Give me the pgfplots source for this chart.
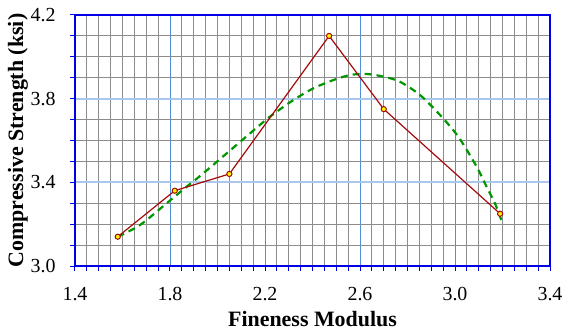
\documentclass[border=0pt]{standalone}
\usepackage{fontspec}
\setmainfont{Liberation Serif}
\usepackage{pgfplots}
\pgfplotsset{compat=1.18}
\definecolor{axblue}{RGB}{0,0,230}
\definecolor{majx}{RGB}{80,140,220}
\definecolor{majy}{RGB}{170,200,235}
\definecolor{gridgray}{RGB}{140,140,140}
\definecolor{linered}{RGB}{165,10,10}
\definecolor{trendgreen}{RGB}{0,150,0}
\begin{document}
\begin{tikzpicture}
\begin{axis}[name=ax, scale only axis, width=475bp, height=251bp,
  xmin=1.4, xmax=3.4, ymin=3.0, ymax=4.2,
  xtick={1.4,1.8,2.2,2.6,3.0,3.4}, ytick={3.0,3.4,3.8,4.2},
  minor x tick num=7, minor y tick num=3,
  grid=both,
  major x grid style={majx, line width=0.8bp},
  major y grid style={majy, line width=2bp},
  minor grid style={gridgray, line width=0.9bp},
  axis line style={axblue, line width=2bp},
  tick style={axblue, line width=1bp},
  major tick length=5bp, minor tick length=5bp,
  tick align=outside, xtick pos=bottom, ytick pos=left,
  /pgf/number format/.cd, fixed, fixed zerofill, precision=1, assume math mode=true, /pgfplots/.cd,
  tick label style={font=\fontsize{20}{24}\selectfont, black},
  xticklabel style={yshift=-13bp},
  yticklabel style={xshift=-11bp},
  label style={font=\fontsize{22}{26}\selectfont\bfseries},
  xlabel={Fineness Modulus},
  ylabel={Compressive Strength (ksi)},
  xlabel style={at={(axis description cs:0.5,-0.213)}, anchor=center},
  ylabel style={at={(axis description cs:-0.12,0.5)}, anchor=center},
  clip=false,
]
\addplot[trendgreen, line width=2.2bp, dash pattern=on 7bp off 5bp, smooth, tension=0.5] coordinates {
(1.58,3.14)(1.674,3.196)(1.786,3.30)(1.87,3.379)(1.94,3.443)(2.137,3.634)(2.221,3.714)(2.319,3.793)(2.403,3.849)(2.488,3.889)(2.558,3.913)(2.628,3.918)(2.70,3.905)(2.768,3.881)(2.853,3.817)(2.937,3.722)(3.014,3.618)(3.091,3.475)(3.133,3.379)(3.168,3.30)(3.195,3.22)
};
\addplot[linered, line width=1.2bp, mark=*, mark size=2.6bp, mark options={fill=yellow, draw=linered, line width=1bp, solid}] coordinates {
(1.58,3.14)(1.82,3.36)(2.05,3.44)(2.47,4.10)(2.70,3.75)(3.19,3.25)
};
\end{axis}
\pgfresetboundingbox
\path ([xshift=-75bp,yshift=-67bp]ax.south west) rectangle ([xshift=13bp,yshift=15bp]ax.north east);
\end{tikzpicture}
\end{document}
